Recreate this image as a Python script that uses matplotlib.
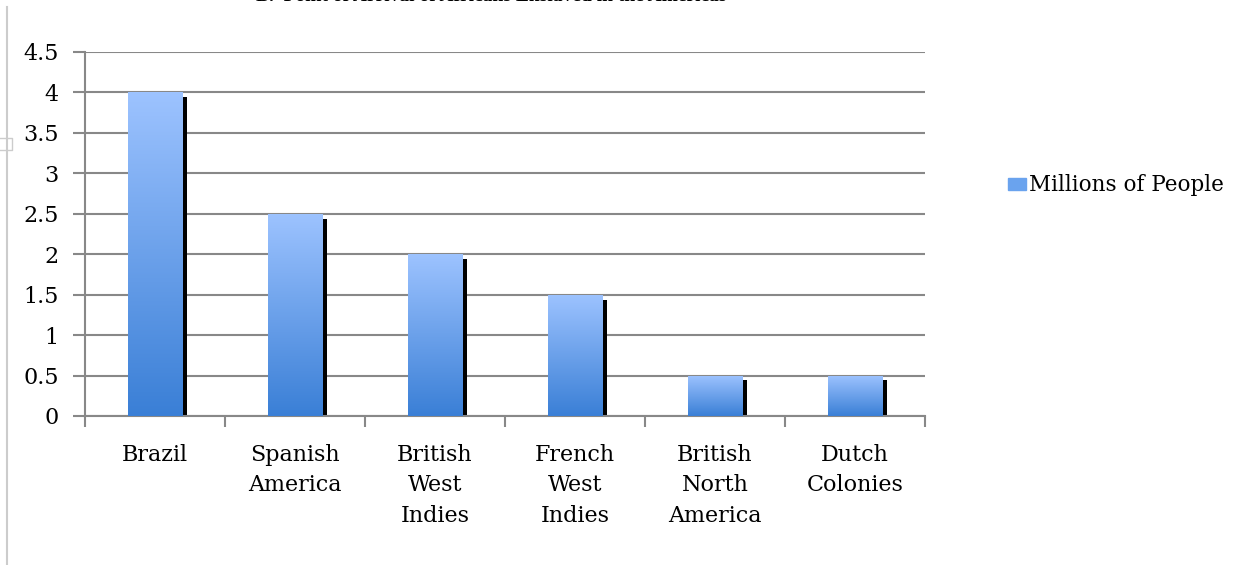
import numpy as np
import matplotlib
matplotlib.use("Agg")
import matplotlib.pyplot as plt
from matplotlib.colors import LinearSegmentedColormap
from matplotlib.lines import Line2D
from matplotlib.patches import Rectangle

categories = ["Brazil", "Spanish\nAmerica", "British\nWest\nIndies",
              "French\nWest\nIndies", "British\nNorth\nAmerica", "Dutch\nColonies"]
millions = [4.0, 2.5, 2.0, 1.5, 0.5, 0.5]
yticks = [0, 0.5, 1, 1.5, 2, 2.5, 3, 3.5, 4, 4.5]
ylabels = ["0", "0.5", "1", "1.5", "2", "2.5", "3", "3.5", "4", "4.5"]

plt.rcParams['font.family'] = ['DejaVu Serif']

fig = plt.figure(figsize=(12.38, 5.65), dpi=100)
ax = fig.add_axes([85 / 1238, 1 - 416 / 565, 840 / 1238, 364 / 565])

grad = LinearSegmentedColormap.from_list("g", ["#3a7fd6", "#9dc3ff"])
x = np.arange(len(categories))
w = 0.39
bars = ax.bar(x, millions, width=w, color="none", zorder=3)
g = np.linspace(0, 1, 256).reshape(-1, 1)
for b, v in zip(bars, millions):
    x0 = b.get_x()
    im = ax.imshow(g, cmap=grad, origin="lower", aspect="auto",
                   extent=[x0, x0 + w, 0, v], zorder=3)
    im.set_clip_path(b)
    # dark shadow at the right edge
    ax.add_patch(Rectangle((x0 + w, 0), 0.035, v - 0.06, color="black",
                           zorder=2, lw=0))

ax.set_xlim(-0.5, len(categories) - 0.5)
ax.set_ylim(0, 4.5)
ax.set_yticks(yticks)
ax.set_yticklabels(ylabels)
ax.yaxis.grid(True, color="#888888", lw=1.5, zorder=0)
ax.set_axisbelow(True)
for s in ["top", "right"]:
    ax.spines[s].set_visible(False)
for s in ["left", "bottom"]:
    ax.spines[s].set_color("#888888")
    ax.spines[s].set_linewidth(1.5)

ax.set_xticks(x)
ax.set_xticklabels(categories, fontsize=16, linespacing=1.5, va="top")
ax.set_xticks(np.arange(len(categories) + 1) - 0.5, minor=True)
ax.tick_params(axis="x", which="major", length=0, pad=20)
ax.tick_params(axis="x", which="minor", length=8, color="#888888", width=1.5)
ax.tick_params(axis="y", length=9, color="#888888", width=1.5, labelsize=16, pad=10)

# legend
fig.patches.append(Rectangle((1008 / 1238, 1 - 190 / 565), 18 / 1238, 12 / 565,
                             transform=fig.transFigure, color="#6aa3ee", figure=fig))
fig.text(1029 / 1238, 1 - 185 / 565, "Millions of People", fontsize=15.5,
         va="center", ha="left")

# title, cut off at the top of the page
fig.text(491 / 1238, 1.006, "B.  Point of Arrival of Africans Enslaved in the Americas",
         fontsize=14, fontweight="bold", ha="center", va="center",
         family="Liberation Serif")

# page border on the left
fig.add_artist(Line2D([7 / 1238, 7 / 1238], [0, 1 - 7 / 565], color="#cccccc", lw=1.5))
fig.add_artist(Line2D([0, 12 / 1238, 12 / 1238, 0],
                      [1 - 138 / 565, 1 - 138 / 565, 1 - 150 / 565, 1 - 150 / 565],
                      color="#cccccc", lw=1))

fig.savefig("out.png", dpi=100)
